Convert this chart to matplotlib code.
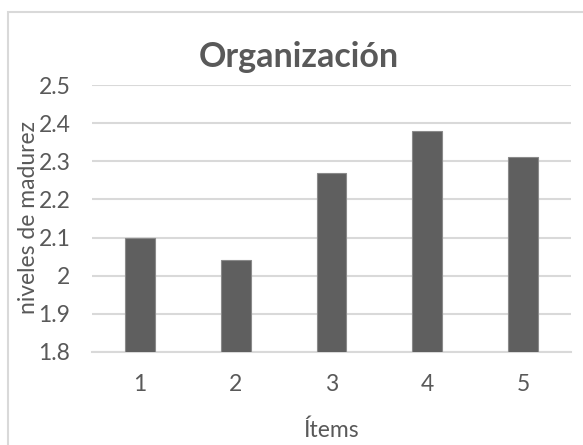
import matplotlib
matplotlib.use("Agg")
import matplotlib.pyplot as plt
from matplotlib.patches import Rectangle
from matplotlib.ticker import FuncFormatter

# data
items = ["1", "2", "3", "4", "5"]
niveles = [2.10, 2.04, 2.27, 2.38, 2.31]
y_ticks = [1.8, 1.9, 2.0, 2.1, 2.2, 2.3, 2.4, 2.5]

TEXT = "#595959"
GRID = "#d9d9d9"
plt.rcParams["font.family"] = ["Lato", "DejaVu Sans"]

fig = plt.figure(figsize=(5.83, 4.45), dpi=100)
ax = fig.add_axes([92 / 583, 1 - 352 / 445, (571 - 92) / 583, (352 - 85) / 445])

# chart frame (only top and left edges are inside the picture)
fig.patches.append(Rectangle((8 / 583, -0.1), 1.2, 1 - 12 / 445 + 0.1,
                             transform=fig.transFigure, fill=False,
                             edgecolor=GRID, linewidth=1.5))

x = list(range(1, len(items) + 1))
ax.bar(x, niveles, width=0.31, color="#5f5f5f", edgecolor="#8a8a8a",
       linewidth=0.8, zorder=3)

ax.set_ylim(1.8, 2.5)
ax.set_xlim(0.5, 5.5)
ax.set_yticks(y_ticks)
ax.yaxis.set_major_formatter(FuncFormatter(lambda v, p: f"{v:g}"))
ax.set_xticks(x)
ax.set_xticklabels(items)
ax.grid(axis="y", color=GRID, linewidth=1.5, zorder=0)
for s in ["top", "right", "left"]:
    ax.spines[s].set_visible(False)
ax.spines["bottom"].set_color(GRID)
ax.spines["bottom"].set_linewidth(1.5)
ax.tick_params(length=0, colors=TEXT, labelsize=16.5)
ax.tick_params(axis="y", pad=15.5)
ax.tick_params(axis="x", pad=15.5)

fig.text(299 / 583, 1 - 57 / 445, "Organización", ha="center", va="center",
         fontsize=24.5, fontweight="bold", color=TEXT)
fig.text(29 / 583, 1 - 218 / 445, "niveles de madurez", rotation=90,
         ha="center", va="center", fontsize=16.5, color=TEXT)
fig.text(331 / 583, 1 - 430 / 445, "Ítems", ha="center", va="center",
         fontsize=16.5, color=TEXT)

fig.savefig("out.png", dpi=100, facecolor="white")
